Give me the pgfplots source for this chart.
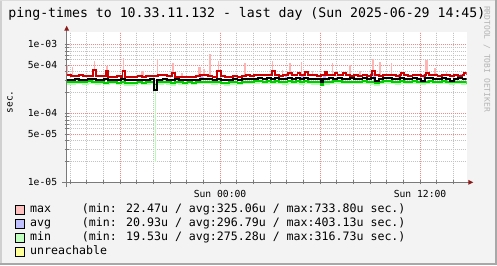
\documentclass[border=0pt]{standalone}
\usepackage{fontspec}
\setmainfont{DejaVu Sans Mono}
\usepackage{pgfplots}
\usepackage{pgfplotstable}
\pgfplotsset{compat=1.18}
\definecolor{bg}{HTML}{F3F3F3}
\definecolor{axgray}{HTML}{7A7A7A}
\definecolor{mgrid}{HTML}{EE8C8C}
\definecolor{ggrid}{HTML}{C4C4C4}
\definecolor{arrowred}{HTML}{8B1A1A}
\definecolor{pinkc}{HTML}{FFB4B4}
\definecolor{lblue}{HTML}{B8B8FF}
\definecolor{lgreen}{HTML}{B4FFB4}
\definecolor{redl}{HTML}{CC0000}
\definecolor{greenl}{HTML}{00CC00}
\definecolor{lgpink}{HTML}{FFC0C0}
\definecolor{lgblue}{HTML}{C0C0FF}
\definecolor{lggreen}{HTML}{C0FFC0}
\definecolor{lgyellow}{HTML}{FFFF99}
\definecolor{wmark}{HTML}{B4B4B4}

\pgfplotstableread{
t red blk grn lg
-9.20 362 307 281 270
-8.95 343 307 281 266
-8.70 343 310 284 272
-8.45 362 307 281 275
-8.20 343 307 284 270
-7.95 343 317 290 281
-7.70 343 310 284 272
-7.60 428 310 284 272
-7.45 343 307 281 268
-7.20 343 307 281 275
-6.95 343 310 278 266
-6.85 414 310 278 266
-6.70 335 307 281 272
-6.45 335 307 284 275
-6.20 343 307 278 268
-5.95 335 310 281 266
-5.85 414 310 281 266
-5.70 335 307 278 262
-5.45 335 303 275 262
-5.20 335 307 278 266
-4.95 343 307 281 272
-4.70 335 303 278 266
-4.45 343 307 281 270
-4.20 343 310 284 275
-3.95 343 220 262 262
-3.80 343 307 281 268
-3.70 362 307 281 268
-3.45 362 310 281 272
-3.20 343 307 281 266
-2.95 343 307 278 262
-2.88 380 307 278 262
-2.70 335 310 281 272
-2.45 335 307 281 270
-2.20 335 303 278 266
-1.95 335 307 281 272
-1.70 335 303 278 270
-1.45 343 307 281 275
-1.20 362 317 284 275
-0.95 362 317 284 278
-0.70 343 310 281 272
-0.45 335 307 281 270
-0.20 335 310 281 272
-0.16 405 310 281 272
0.05 343 307 278 268
0.30 335 303 278 262
0.55 335 307 281 266
0.80 343 310 281 270
1.05 335 307 278 266
1.30 343 310 281 272
1.55 362 310 284 275
1.80 343 317 287 278
2.05 354 317 290 281
2.30 354 324 290 284
2.55 354 317 287 281
2.80 354 324 290 278
3.05 354 317 287 275
3.10 405 317 287 275
3.30 354 324 290 272
3.55 343 317 287 275
3.80 354 317 284 270
4.05 354 324 290 281
4.10 383 324 290 281
4.30 354 317 287 272
4.55 354 324 290 278
4.65 383 324 290 278
4.80 354 317 284 270
5.05 354 324 290 281
5.12 392 324 290 281
5.30 354 317 287 275
5.55 362 317 284 270
5.80 343 310 281 266
6.05 354 284 260 255
6.20 354 317 281 266
6.28 392 317 281 266
6.42 354 317 281 266
6.55 354 324 287 275
6.80 354 317 290 278
6.90 383 317 290 278
7.05 354 324 290 281
7.30 354 317 287 275
7.38 383 317 287 275
7.55 354 317 284 272
7.80 343 324 287 278
8.05 354 317 284 272
8.30 343 317 287 275
8.55 354 324 290 278
8.80 343 317 287 275
9.05 354 324 284 270
9.12 405 324 284 270
9.30 362 297 272 262
9.55 343 317 284 272
9.80 354 324 290 278
10.05 362 324 290 281
10.30 354 317 287 275
10.55 343 317 284 270
10.80 354 324 290 278
10.88 383 324 290 278
11.05 354 317 287 275
11.30 343 317 284 272
11.55 362 324 290 281
11.80 354 317 287 275
12.05 343 297 281 268
12.30 354 324 287 275
12.35 383 324 287 275
12.55 354 324 290 278
12.80 354 317 287 275
13.05 343 317 284 272
13.30 362 324 290 281
13.55 354 317 287 275
13.80 343 297 281 266
14.05 354 317 284 272
14.30 343 324 287 275
14.55 354 317 281 270
14.62 383 317 281 270
14.80 354 310 266 260
}\data

\begin{document}
\begin{tikzpicture}
\begin{scope}[x=1pt,y=1pt]
\useasboundingbox (0,0) rectangle (497,265);
\fill[bg] (0,0) rectangle (497,265);
\draw[line width=2pt,draw={rgb,255:red,208;green,208;blue,208}] (1,0) -- (1,264);
\draw[line width=1pt,draw={rgb,255:red,220;green,220;blue,220}] (0,264.5) -- (497,264.5);
\draw[line width=2pt,draw={rgb,255:red,168;green,168;blue,168}] (496,0) -- (496,265);
\draw[line width=2pt,draw={rgb,255:red,168;green,168;blue,168}] (0,1) -- (497,1);
\end{scope}

\begin{axis}[
  at={(66.7pt,82.7pt)}, anchor=south west,
  width=400pt, height=150pt, scale only axis,
  ymode=log, xmin=-9.2, xmax=14.8, ymin=10, ymax=1490,
  axis x line*=bottom, axis y line*=left,
  axis line style={draw=axgray, line width=0.8pt},
  xtick={-6,0,6,12}, xticklabels={,Sun 00:00,,Sun 12:00},
  minor xtick={-9,-8,-7,-5,-4,-3,-2,-1,1,2,3,4,5,7,8,9,10,11,13,14},
  ytick={10,50,100,500,1000}, yticklabels={1e-05,5e-05,1e-04,5e-04,1e-03},
  minor ytick={20,30,40,60,70,80,90,200,300,400,600,700,800,900},
  grid=both,
  major grid style={draw=mgrid, dash pattern=on 1pt off 1pt, line width=0.6pt},
  minor grid style={draw=ggrid, dash pattern=on 1pt off 1pt, line width=0.6pt},
  tick style={draw=axgray, line width=0.6pt},
  tick align=center, major tick length=4pt, minor tick length=4pt,
  xticklabel style={font=\fontsize{9.7}{10}\selectfont, anchor=base, inner sep=0pt, yshift=-13.7pt},
  yticklabel style={font=\fontsize{9.7}{10}\selectfont, anchor=east, inner sep=0pt, xshift=-7.4pt},
  axis background/.style={fill=white},
  clip=true,
]
% min MIN (light green band)
\addplot[const plot, lgreen, line width=2.4pt] table[x=t, y=lg] {\data};
\addplot[lgreen, line width=0.9pt, unbounded coords=jump] coordinates {(-3.88,262) (-3.88,20)};
% max MAX spikes (narrow)
\addplot[pinkc, line width=1.1pt, unbounded coords=jump] coordinates {
(-9.15,362) (-9.15,503) (-9.15,nan)
(-8.86,343) (-8.86,474) (-8.86,nan)
(-7.55,428) (-7.55,580) (-7.55,nan)
(-7.40,343) (-7.40,437) (-7.40,nan)
(-6.78,414) (-6.78,480) (-6.78,nan)
(-5.80,414) (-5.80,630) (-5.80,nan)
(-3.76,343) (-3.76,610) (-3.76,nan)
(-2.82,380) (-2.82,530) (-2.82,nan)
(-2.28,335) (-2.28,379) (-2.28,nan)
(-0.96,362) (-0.96,437) (-0.96,nan)
(-0.10,405) (-0.10,565) (-0.10,nan)
(1.50,362) (1.50,530) (1.50,nan)
(3.15,405) (3.15,565) (3.15,nan)
(3.74,343) (3.74,423) (3.74,nan)
(4.20,354) (4.20,530) (4.20,nan)
(4.90,354) (4.90,547) (4.90,nan)
(5.54,362) (5.54,415) (5.54,nan)
(6.74,354) (6.74,530) (6.74,nan)
(7.80,343) (7.80,503) (7.80,nan)
(8.40,343) (8.40,415) (8.40,nan)
(9.18,405) (9.18,610) (9.18,nan)
(10.30,354) (10.30,530) (10.30,nan)
(10.90,383) (10.90,415) (10.90,nan)
(12.90,354) (12.90,452) (12.90,nan)
(13.60,354) (13.60,400) (13.60,nan)
};
% max MAX spikes (wide)
\addplot[pinkc, line width=2.6pt, unbounded coords=jump] coordinates {
(-4.66,335) (-4.66,414) (-4.66,nan)
(-1.22,362) (-1.22,474) (-1.22,nan)
(-0.60,343) (-0.60,734) (-0.60,nan)
(9.60,343) (9.60,547) (9.60,nan)
(12.40,383) (12.40,600) (12.40,nan)
};
% avg MAX (light blue)
\addplot[lblue, line width=2.6pt, unbounded coords=jump] coordinates {
(-1.10,317) (-1.10,355) (-1.10,nan)
(3.95,317) (3.95,350) (3.95,nan)
(4.95,317) (4.95,370) (4.95,nan)
(6.25,290) (6.25,375) (6.25,nan)
(9.25,300) (9.25,385) (9.25,nan)
(10.75,317) (10.75,370) (10.75,nan)
(12.25,317) (12.25,375) (12.25,nan)
(14.50,317) (14.50,372) (14.50,nan)
};
\addplot[const plot, greenl, line width=1.8pt] table[x=t, y=grn] {\data};
\addplot[const plot, black, line width=1.8pt] table[x=t, y=blk] {\data};
\addplot[const plot, redl, line width=1.8pt] table[x=t, y=red] {\data};
\end{axis}

\begin{scope}[x=1pt,y=1pt]
% axis extensions and arrows
\draw[axgray, line width=0.8pt] (66.7,78) -- (66.7,235);
\draw[axgray, line width=0.8pt] (62,82.7) -- (468.5,82.7);
\fill[arrowred] (64.2,234.3) -- (69.2,234.3) -- (66.7,239.2) -- cycle;
\fill[arrowred] (468.3,80.2) -- (468.3,85.2) -- (473.3,82.7) -- cycle;

% title and labels
\node[anchor=base west, inner sep=0pt, font=\fontsize{13.2}{14}\selectfont] at (8.3,247.5) {ping-times to 10.33.11.132 - last day (Sun 2025-06-29 14:45)};
\node[rotate=90, inner sep=0pt, font=\fontsize{9.5}{10}\selectfont] at (10,163) {sec.};
\node[rotate=-90, inner sep=0pt, text=wmark, font=\fontsize{8}{9}\selectfont] at (487,206) {RRDTOOL / TOBI OETIKER};

% legend
\begin{scope}[font=\fontsize{11.6}{12}\selectfont]
\filldraw[fill=lgpink, draw=black, line width=0.8pt] (15,51) rectangle (24,60);
\filldraw[fill=lgblue, draw=black, line width=0.8pt] (15,37) rectangle (24,46);
\filldraw[fill=lggreen, draw=black, line width=0.8pt] (15,23) rectangle (24,32);
\filldraw[fill=lgyellow, draw=black, line width=0.8pt] (15,9) rectangle (24,18);
\node[anchor=base west, inner sep=0pt] at (30,52.3) {max};
\node[anchor=base west, inner sep=0pt] at (30,38.3) {avg};
\node[anchor=base west, inner sep=0pt] at (30,24.3) {min};
\node[anchor=base west, inner sep=0pt] at (30,10.3) {unreachable};
\node[anchor=base west, inner sep=0pt] at (81.7,52.3) {(min: 22.47u / avg:325.06u / max:733.80u sec.)};
\node[anchor=base west, inner sep=0pt] at (81.7,38.3) {(min: 20.93u / avg:296.79u / max:403.13u sec.)};
\node[anchor=base west, inner sep=0pt] at (81.7,24.3) {(min: 19.53u / avg:275.28u / max:316.73u sec.)};
\end{scope}
\end{scope}
\end{tikzpicture}
\end{document}
